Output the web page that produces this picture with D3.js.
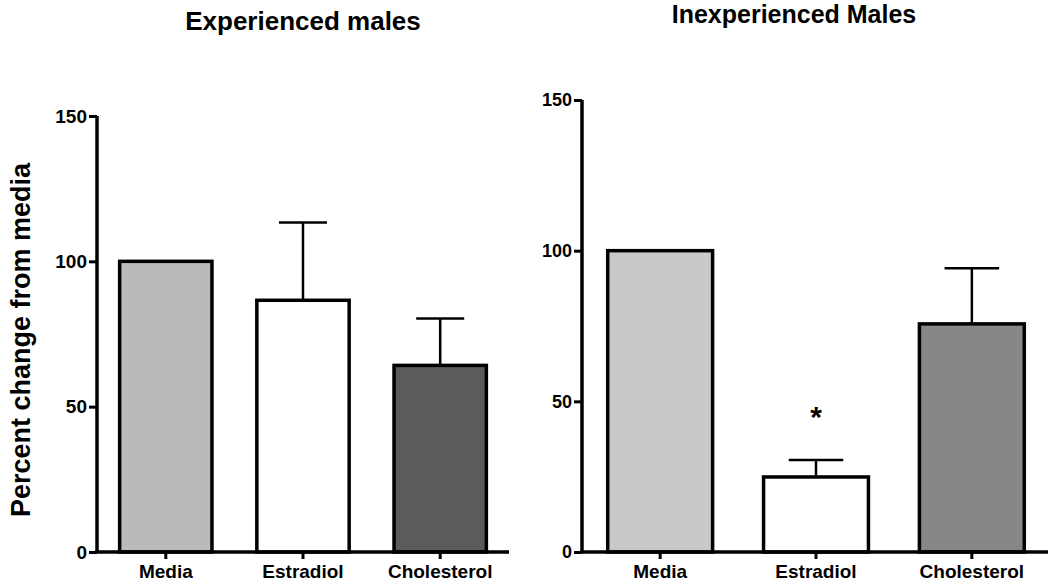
<!DOCTYPE html>
<html><head><meta charset="utf-8">
<script src="https://cdn.jsdelivr.net/npm/d3@7"></script>
<style>body{margin:0;background:#fff;} text{font-family:"Liberation Sans",Arial,sans-serif;font-weight:bold;}</style>
</head><body><svg id="c" width="1050" height="584"></svg>
<script>
const categories = ["Media","Estradiol","Cholesterol"];
const yTicks = [0,50,100,150];
const expTitle = "Experienced males";
const expMeans = [100, 86.6, 64.2];
const expErr = [0, 26.8, 16.1];
const expColors = ["#bababa","#ffffff","#5b5b5b"];
const inexpTitle = "Inexperienced Males";
const inexpMeans = [100, 24.9, 75.7];
const inexpErr = [0, 5.6, 18.5];
const inexpColors = ["#c9c9c9","#ffffff","#878787"];
const inexpSig = ["","*",""];

const svg = d3.select("#c");

function panel(cfg){
  const g = svg.append("g");
  const x = d3.scaleBand().domain(categories).range([cfg.x0,cfg.x1]).paddingInner(0.327).paddingOuter(0.165);
  const y = d3.scaleLinear().domain([0,150]).range([552,cfg.yTop]);
  const bw = x.bandwidth();
  g.selectAll("rect.bar").data(categories).enter().append("rect")
    .attr("x",d=>x(d)).attr("width",bw)
    .attr("y",(d,i)=>y(cfg.means[i])).attr("height",(d,i)=>y(0)-y(cfg.means[i]))
    .attr("fill",(d,i)=>cfg.colors[i]).attr("stroke","#000").attr("stroke-width",3.5);
  categories.forEach((d,i)=>{
    if(cfg.err[i]>0){
      const cx = x(d)+bw/2, top=y(cfg.means[i]+cfg.err[i]);
      g.append("line").attr("x1",cx).attr("x2",cx).attr("y1",y(cfg.means[i])).attr("y2",top).attr("stroke","#000").attr("stroke-width",2.5);
      g.append("line").attr("x1",cx-bw*0.26).attr("x2",cx+bw*0.26).attr("y1",top).attr("y2",top).attr("stroke","#000").attr("stroke-width",2.5);
    }
    if(cfg.sig && cfg.sig[i]){
      g.append("text").attr("x",x(d)+bw/2).attr("y",y(cfg.means[i]+cfg.err[i])-33).attr("text-anchor","middle")
       .attr("font-size",30).text(cfg.sig[i]);
    }
  });
  const ya = g.append("g").attr("transform",`translate(${cfg.x0},0)`)
    .call(d3.axisLeft(y).tickValues(yTicks).tickSize(8).tickPadding(2).tickSizeOuter(0));
  const xa = g.append("g").attr("transform",`translate(0,552)`)
    .call(d3.axisBottom(x).tickSize(7).tickPadding(6).tickSizeOuter(0));
  [ya,xa].forEach(a=>{
    a.selectAll(".domain").attr("stroke","#000").attr("stroke-width",3.5);
    a.selectAll(".tick line").attr("stroke","#000").attr("stroke-width",3);
    a.selectAll("text").attr("fill","#000").style("font-weight","bold");
  });
  ya.selectAll("text").attr("font-size",cfg.yFont);
  xa.selectAll("text").attr("font-size",19);
  ya.select(".domain").attr("d",`M0,${cfg.yTop}V552`);
  xa.select(".domain").attr("d",`M${cfg.x0-1.5},0H${cfg.axisEnd}`);
  svg.append("text").attr("x",cfg.titleX).attr("y",cfg.titleY).attr("text-anchor","middle")
    .attr("font-size",cfg.titleFont).text(cfg.title);
}

panel({x0:97,x1:509,yTop:116,axisEnd:509,means:expMeans,err:expErr,colors:expColors,title:expTitle,titleX:303,titleY:30,titleFont:26,yFont:19});
panel({x0:582,x1:1050,yTop:100,axisEnd:1048,means:inexpMeans,err:inexpErr,colors:inexpColors,sig:inexpSig,title:inexpTitle,titleX:794,titleY:23,titleFont:25,yFont:18});

svg.append("text").attr("transform","translate(30,340) rotate(-90)").attr("text-anchor","middle")
  .attr("font-size",27).text("Percent change from media");
</script></body></html>
